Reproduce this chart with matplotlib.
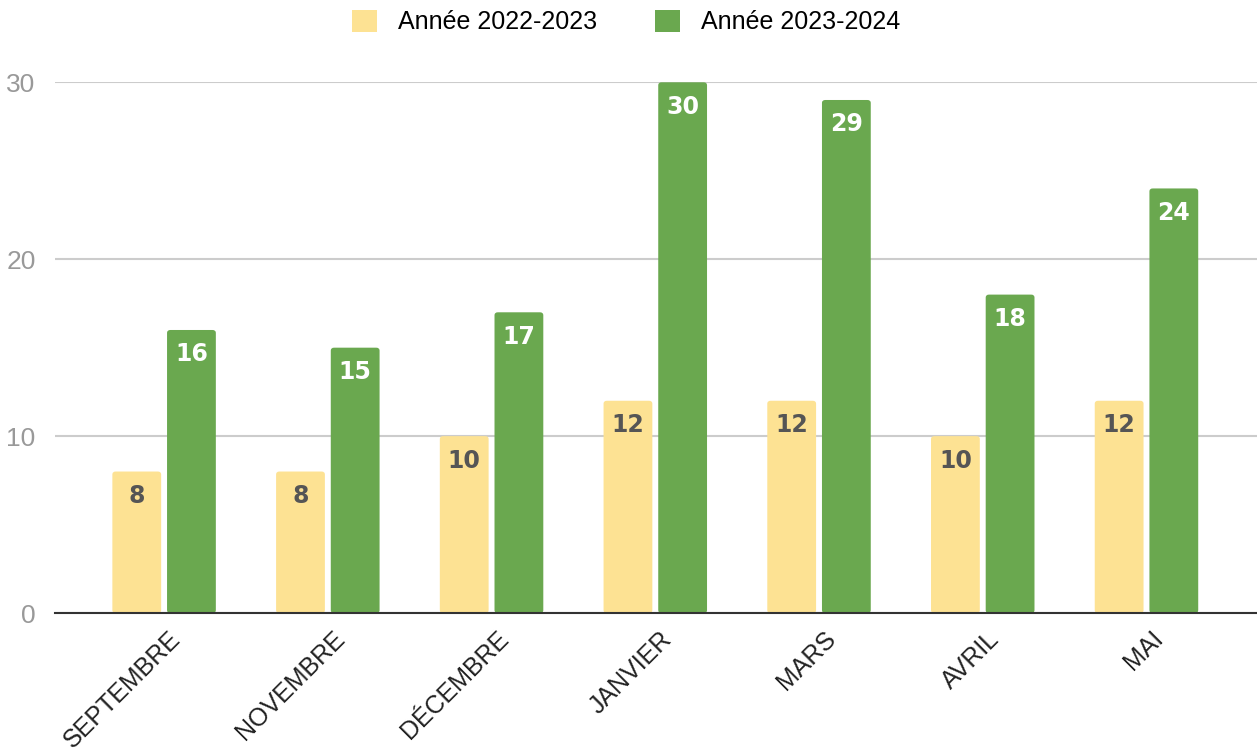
import matplotlib
matplotlib.use("Agg")
import matplotlib.pyplot as plt
import matplotlib.transforms as mtransforms
import numpy as np
from matplotlib.patches import FancyBboxPatch, Patch

plt.rcParams['font.family'] = ['Liberation Sans', 'DejaVu Sans']

categories = ["SEPTEMBRE", "NOVEMBRE", "DÉCEMBRE", "JANVIER", "MARS", "AVRIL", "MAI"]
series_names = ["Année 2022-2023", "Année 2023-2024"]
values_2223 = [8, 8, 10, 12, 12, 10, 12]
values_2324 = [16, 15, 17, 30, 29, 18, 24]
yticks = [0, 10, 20, 30]

col_y = "#FDE293"
col_g = "#6AA84F"

fig = plt.figure(figsize=(12.57, 7.55), dpi=100)
ax = fig.add_axes([0.0438, 0.188, 0.9562, 0.703])

x = np.arange(len(categories))
w = 0.298
off = 0.167

def rbars(xs, vals, color):
    bars = ax.bar(xs, vals, width=w, color=color, zorder=3)
    for b in bars:
        b.set_visible(False)
        p = FancyBboxPatch((b.get_x(), 0), b.get_width(), b.get_height(),
                           boxstyle="round,pad=0,rounding_size=0.02",
                           mutation_aspect=8.5,
                           fc=color, ec="none", zorder=3)
        ax.add_patch(p)
    return bars

b1 = rbars(x - off, values_2223, col_y)
b2 = rbars(x + off, values_2324, col_g)

for xs, vals, tc in [(x - off, values_2223, "#555555"), (x + off, values_2324, "white")]:
    for xi, v in zip(xs, vals):
        ax.annotate(str(v), (xi, v), xytext=(0, -9), textcoords="offset points",
                    ha="center", va="top", fontsize=17, fontweight="bold", color=tc,
                    family=["DejaVu Sans"], zorder=4)

ax.set_xlim(-0.666, 6.675)
ax.set_ylim(0, 30)
ax.set_yticks(yticks)
ax.set_yticklabels([str(t) for t in yticks], fontsize=19, color="#999999")
ax.yaxis.grid(True, color="#cccccc", linewidth=1.5, zorder=0)
ax.set_axisbelow(True)
ax.tick_params(axis="y", length=0, pad=14)
ax.tick_params(axis="x", length=0, pad=8)
ax.set_xticks(x)
ax.set_xticklabels(categories, rotation=45, ha="right", va="center",
                   rotation_mode="anchor", fontsize=18, color="#222222")
shift = mtransforms.ScaledTranslation(13 / 100, -11 / 100, fig.dpi_scale_trans)
for lab in ax.get_xticklabels():
    lab.set_transform(lab.get_transform() + shift)
for s in ["top", "right", "left"]:
    ax.spines[s].set_visible(False)
ax.spines["bottom"].set_color("#333333")
ax.spines["bottom"].set_linewidth(1.5)
ax.spines["bottom"].set_zorder(5)

handles = [Patch(facecolor=col_y, edgecolor="none"), Patch(facecolor=col_g, edgecolor="none")]
fig.legend(handles, series_names, loc="center", bbox_to_anchor=(0.498, 0.971), ncol=2,
           frameon=False, fontsize=18, handlelength=1.0, handleheight=1.0,
           columnspacing=2.3, handletextpad=0.85)

fig.savefig("out.png", dpi=100, facecolor="white")
